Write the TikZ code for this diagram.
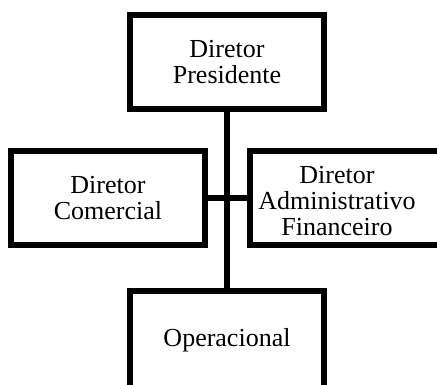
\documentclass[tikz,border=0pt]{standalone}
\usepackage{fontspec}
\setmainfont{Liberation Serif}
\begin{document}
\begin{tikzpicture}[x=1pt,y=-1pt,
  orgbox/.style={draw=black, line width=6pt, minimum width=194pt,
    minimum height=94pt, inner sep=0pt, align=center,
    font=\fontsize{26}{26}\selectfont},
  orgtext/.style={inner sep=0pt, align=center,
    font=\fontsize{26}{26}\selectfont},
  link/.style={draw=black, line width=6pt}]
\useasboundingbox (0,0) rectangle (437,385);
\begin{scope}
  \clip (0,0) rectangle (437,385);
  % boxes of the chart
  \node[orgbox] (pres) at (227,62.5) {Diretor\\Presidente};
  \node[orgbox] (com) at (108,198.5) {Diretor\\Comercial};
  \node[orgbox] (adm) at (347,198.5) {};
  \node[orgtext] (admtext) at (337,201) {Diretor\\Administrativo\\Financeiro};
  \node[orgbox, minimum height=106pt] (oper) at (227,344) {};
  \node[orgtext] (opertext) at (227,340) {Operacional};
  % connectors
  \draw[link] (pres.south) -- (oper.north);
  \draw[link] (com.east) -- (adm.west);
\end{scope}
\end{tikzpicture}
\end{document}
